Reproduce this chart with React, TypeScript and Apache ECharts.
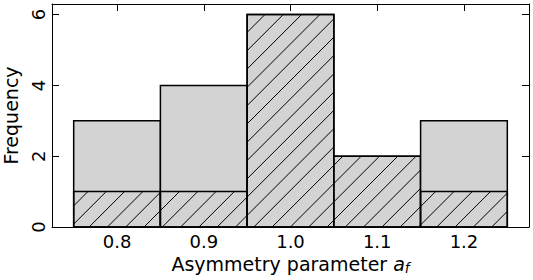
import React, { useEffect, useRef } from "react";
import * as echarts from "echarts";

// Data
const binCenters = [0.8, 0.9, 1.0, 1.1, 1.2];
const totalCounts = [3, 4, 6, 2, 3];
const hatchedCounts = [1, 1, 6, 2, 1];
const binWidth = 0.1;
const xTicks = [0.8, 0.9, 1.0, 1.1, 1.2];
const yTicks = [0, 2, 4, 6];

const FONT = "DejaVu Sans";
const GRAY = "#d3d3d3";
const HATCH_SPACING = 18.3;
const HATCH_OFFSET = 5;

function hatchLines(x0: number, x1: number, yTop: number, yBot: number) {
  const segs: any[] = [];
  const cMin = x0 + yTop;
  const cMax = x1 + yBot;
  let k = Math.ceil((cMin - HATCH_OFFSET) / HATCH_SPACING);
  for (; HATCH_OFFSET + k * HATCH_SPACING <= cMax; k++) {
    const c = HATCH_OFFSET + k * HATCH_SPACING;
    const xa = Math.max(x0, c - yBot);
    const xb = Math.min(x1, c - yTop);
    if (xb - xa > 0.5) {
      segs.push({
        type: "line",
        shape: { x1: xa, y1: c - xa, x2: xb, y2: c - xb },
        style: { stroke: "#000", lineWidth: 1 },
        silent: true,
      });
    }
  }
  return segs;
}

export default function App() {
  const ref = useRef<HTMLDivElement>(null);
  useEffect(() => {
    if (!ref.current) return;
    const chart = echarts.init(ref.current, null, { renderer: "svg" });
    const data = binCenters.map((c, i) => [c, totalCounts[i], hatchedCounts[i]]);
    const axisCommon = {
      type: "value" as const,
      axisLine: { show: true, onZero: false, lineStyle: { color: "#000", width: 1 } },
      axisTick: { show: true, inside: true, length: 7, lineStyle: { color: "#000", width: 1 } },
      splitLine: { show: false },
    };
    chart.setOption({
      animation: false,
      backgroundColor: "#fff",
      grid: { left: 52, right: 4, top: 4, bottom: 53, containLabel: false, outerBoundsMode: "none" },
      xAxis: [
        {
          ...axisCommon,
          position: "bottom",
          min: 0.725,
          max: 1.275,
          axisTick: { ...axisCommon.axisTick, customValues: xTicks },
          axisLabel: {
            customValues: xTicks,
            formatter: (v: number) => v.toFixed(1),
            fontSize: 18,
            fontFamily: FONT,
            color: "#000",
            margin: 5,
          },
          name: "{n|Asymmetry parameter }{i|a}{s|f}",
          nameLocation: "middle",
          nameGap: 24,
          nameTextStyle: {
            rich: {
              n: { fontSize: 19, fontFamily: FONT, color: "#000", lineHeight: 22 },
              i: { fontSize: 19, fontFamily: FONT, fontStyle: "italic", color: "#000", lineHeight: 22 },
              s: { fontSize: 13.5, fontFamily: FONT, fontStyle: "italic", color: "#000", lineHeight: 10, verticalAlign: "bottom" },
            },
          },
        },
        {
          ...axisCommon,
          position: "top",
          min: 0.725,
          max: 1.275,
          axisTick: { ...axisCommon.axisTick, customValues: xTicks },
          axisLabel: { show: false },
        },
      ],
      yAxis: [
        {
          ...axisCommon,
          position: "left",
          min: 0,
          max: 6.3,
          axisTick: { ...axisCommon.axisTick, customValues: yTicks },
          axisLabel: {
            customValues: yTicks,
            rotate: 90,
            fontSize: 18,
            fontFamily: FONT,
            color: "#000",
            margin: 5,
          },
          name: "Frequency",
          nameLocation: "middle",
          nameRotate: 90,
          nameGap: 32,
          nameTextStyle: { fontSize: 19, fontFamily: FONT, color: "#000" },
        },
        {
          ...axisCommon,
          position: "right",
          min: 0,
          max: 6.3,
          axisTick: { ...axisCommon.axisTick, customValues: yTicks },
          axisLabel: { show: false },
        },
      ],
      series: [
        {
          type: "custom",
          xAxisIndex: 0,
          yAxisIndex: 0,
          data,
          renderItem: (params: any, api: any) => {
            const c = api.value(0);
            const tot = api.value(1);
            const hat = api.value(2);
            const pL = api.coord([c - binWidth / 2, 0]);
            const pR = api.coord([c + binWidth / 2, tot]);
            const pH = api.coord([c + binWidth / 2, hat]);
            const x0 = pL[0];
            const x1 = pR[0];
            const yBot = pL[1];
            const yTot = pR[1];
            const yHat = pH[1];
            const children: any[] = [
              {
                type: "rect",
                shape: { x: x0, y: yTot, width: x1 - x0, height: yBot - yTot },
                style: { fill: GRAY, stroke: "#000", lineWidth: 1.5 },
              },
            ];
            if (hat > 0) {
              children.push(...hatchLines(x0, x1, yHat, yBot));
              children.push({
                type: "rect",
                shape: { x: x0, y: yHat, width: x1 - x0, height: yBot - yHat },
                style: { fill: "none", stroke: "#000", lineWidth: 1.5 },
              });
            }
            return { type: "group", children };
          },
        },
      ],
    });
    return () => chart.dispose();
  }, []);
  return (
    <div
      ref={ref}
      style={{ position: "fixed", left: 0, top: 0, width: 533, height: 280, background: "#fff" }}
    />
  );
}
